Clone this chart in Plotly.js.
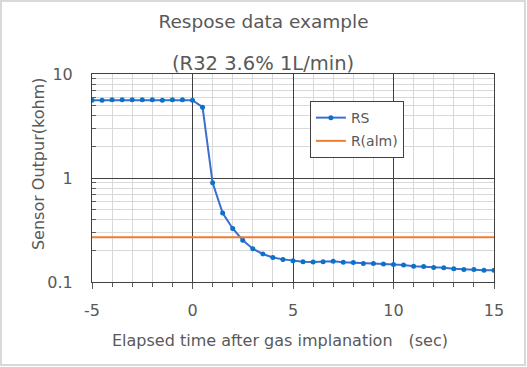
<!DOCTYPE html>
<html><head><meta charset="utf-8">
<script src="https://cdn.plot.ly/plotly-3.0.1.min.js"></script>
<style>body{margin:0;}#wrap{position:relative;width:527px;height:367px;}#chart{width:527px;height:367px;}#frame{position:absolute;left:0;top:0;width:522px;height:362px;border:2px solid #d9d9d9;pointer-events:none;}</style>
</head><body><div id="wrap"><div id="chart"></div><div id="frame"></div></div>
<script>
const timeSec = [-5,-4.5,-4,-3.5,-3,-2.5,-2,-1.5,-1,-0.5,0,0.5,1,1.5,2,2.5,3,3.5,4,4.5,5,5.5,6,6.5,7,7.5,8,8.5,9,9.5,10,10.5,11,11.5,12,12.5,13,13.5,14,14.5,15];
const rsValues = [5.6,5.6,5.65,5.65,5.65,5.65,5.65,5.6,5.65,5.65,5.6,4.8,0.90,0.46,0.327,0.252,0.209,0.186,0.172,0.165,0.160,0.157,0.156,0.157,0.158,0.155,0.154,0.151,0.151,0.149,0.147,0.146,0.142,0.141,0.138,0.137,0.134,0.132,0.132,0.130,0.130];
const almValue = 0.27;
const almX = [-5, 15];
const almY = almX.map(() => almValue);
const xTickVals = [-5, 0, 5, 10, 15];
const xTickText = ['-5', '0', '5', '10', '15'];
const FONT = '"DejaVu Sans", "Noto Sans", sans-serif';
const TXT = '#595959';
const traces = [
  {x: timeSec, y: rsValues, name: 'RS', mode: 'lines+markers', type: 'scatter', legendgroup: 'a',
   line: {color: '#3A6FD0', width: 2}, marker: {color: '#0A72C8', size: 5}},
  {x: almX, y: almY, name: 'R(alm)', mode: 'lines', type: 'scatter', legendgroup: 'b',
   line: {color: '#ED7D31', width: 2}}
];
const layout = {
  width: 527, height: 367,
  margin: {l: 92, r: 33, t: 74, b: 85},
  paper_bgcolor: '#ffffff', plot_bgcolor: '#ffffff',
  font: {family: FONT, color: TXT, size: 14},
  title: {text: 'Respose data example', x: 0.5, xanchor: 'center', y: 0.94, yanchor: 'middle', font: {size: 18.5, color: TXT, family: FONT}},
  annotations: [
    {text: '(R32 3.6% 1L/min)', xref: 'paper', yref: 'paper', x: 0.4266, xanchor: 'center', y: 1, yanchor: 'middle', yshift: 11, showarrow: false, font: {size: 19.5, color: TXT, family: FONT}},
    {text: 'Elapsed time after gas implanation\u3000(sec)', xref: 'paper', yref: 'paper', x: 0.4677, xanchor: 'center', y: 0, yanchor: 'middle', yshift: -58, showarrow: false, font: {size: 16, color: TXT, family: FONT}},
    {text: 'Sensor Outpur(kohm)', xref: 'paper', yref: 'paper', x: 0, xanchor: 'center', xshift: -54, y: 0.567, yanchor: 'middle', textangle: -90, showarrow: false, font: {size: 16, color: TXT, family: FONT}}
  ],
  xaxis: {
    range: [-5, 15], tickmode: 'array', tickvals: xTickVals, ticktext: xTickText,
    showgrid: true, gridcolor: '#404040', gridwidth: 1,
    zeroline: false,
    showline: true, linecolor: '#404040', mirror: true,
    ticks: 'outside', ticklen: 6, tickcolor: '#595959',
    ticklabelstandoff: 8,
    tickfont: {size: 16, color: TXT},
    minor: {dtick: 1, tick0: 0, showgrid: true, gridcolor: '#d9d9d9', ticks: 'outside', ticklen: 4, tickcolor: '#595959'}
  },
  yaxis: {
    type: 'log', range: [-1, 1], dtick: 1,
    showgrid: true, gridcolor: '#404040', gridwidth: 1,
    zeroline: false,
    showline: true, linecolor: '#404040', mirror: true,
    ticks: '', ticklabelstandoff: 15, tickfont: {size: 16, color: TXT},
    minor: {dtick: 'D1', showgrid: true, gridcolor: '#d9d9d9', ticks: 'inside', ticklen: 4, tickcolor: '#595959'}
  },
  legend: {x: 0.542, y: 0.87, xanchor: 'left', yanchor: 'top', bgcolor: '#ffffff', bordercolor: '#404040', borderwidth: 1,
           font: {size: 14, color: TXT}, itemwidth: 30, tracegroupgap: 2},
  showlegend: true
};
Plotly.newPlot('chart', traces, layout, {displayModeBar: false, staticPlot: true});
</script></body></html>
